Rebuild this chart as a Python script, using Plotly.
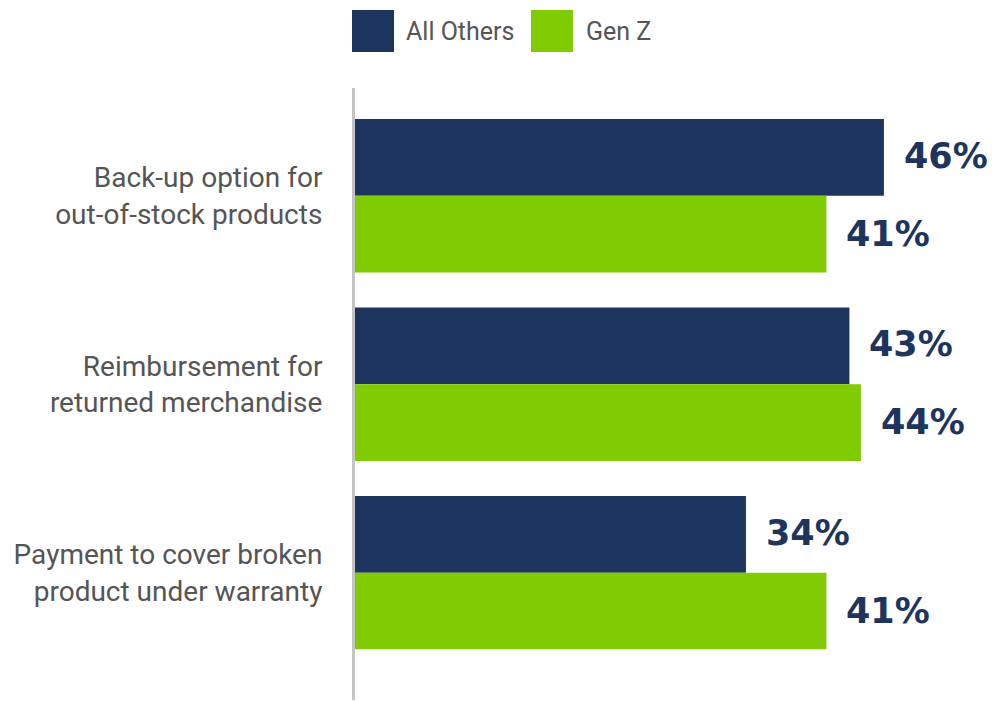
import plotly.graph_objects as go

categories = ["Back-up option for<br>out-of-stock products",
              "Reimbursement for<br>returned merchandise",
              "Payment to cover broken<br>product under warranty"]
series_names = ["All Others", "Gen Z"]
all_others = [46, 43, 34]
gen_z = [41, 44, 41]

NAVY = "#1d355e"
GREEN = "#80cc00"
GRAY = "#555555"
LABEL_FONT = "Roboto, sans-serif"
VALUE_FONT = "DejaVu Sans, Verdana, sans-serif"

fig = go.Figure()
for name, vals, col in [(series_names[0], all_others, NAVY), (series_names[1], gen_z, GREEN)]:
    fig.add_trace(go.Bar(
        y=categories, x=vals, name=name, orientation="h",
        marker=dict(color=col, line=dict(width=0)),
        showlegend=False, hoverinfo="x+name",
    ))

fig.update_layout(
    width=992, height=701,
    margin=dict(l=355, r=0, t=88, b=1),
    paper_bgcolor="white", plot_bgcolor="white",
    barmode="group", bargap=0.186, bargroupgap=0,
    xaxis=dict(range=[0, 55.4], visible=False, fixedrange=True),
    yaxis=dict(
        categoryorder="array", categoryarray=categories,
        range=[2.676, -0.572], automargin=False,
        showline=True, linecolor="#c4c4c4", linewidth=3,
        showgrid=False, zeroline=False, ticks="",
        ticklabelstandoff=24,
        tickfont=dict(family=LABEL_FONT, size=28, color=GRAY),
    ),
)

# value labels, placed from data through axis coordinates
annotations = []
for idx, vals in enumerate([all_others, gen_z]):
    for i, v in enumerate(vals):
        annotations.append(dict(
            x=v, y=categories[i], xref="x", yref="y",
            text=f"<b>{v}%</b>", showarrow=False,
            xanchor="left", yanchor="middle",
            xshift=18, yshift=(40 if idx == 0 else -38),
            font=dict(family=VALUE_FONT, size=35, color=NAVY),
        ))

# legend drawn manually with square swatches
legend_items = [(series_names[0], NAVY, 352, 404), (series_names[1], GREEN, 531, 584)]
shapes = []
for name, col, sx, tx in legend_items:
    shapes.append(dict(type="rect", xref="paper", yref="paper",
                       x0=(sx - 355) / 637, x1=(sx + 42 - 355) / 637,
                       y0=(701 - 1 - 52) / 612, y1=(701 - 1 - 10) / 612,
                       fillcolor=col, line=dict(width=0), layer="above"))
    annotations.append(dict(x=(tx - 355) / 637, y=(701 - 1 - 31) / 612,
                            xref="paper", yref="paper", text=name, showarrow=False,
                            xanchor="left", yanchor="middle",
                            font=dict(family=LABEL_FONT, size=25, color=GRAY)))

fig.update_layout(annotations=annotations, shapes=shapes)
fig.write_html("out.html")
